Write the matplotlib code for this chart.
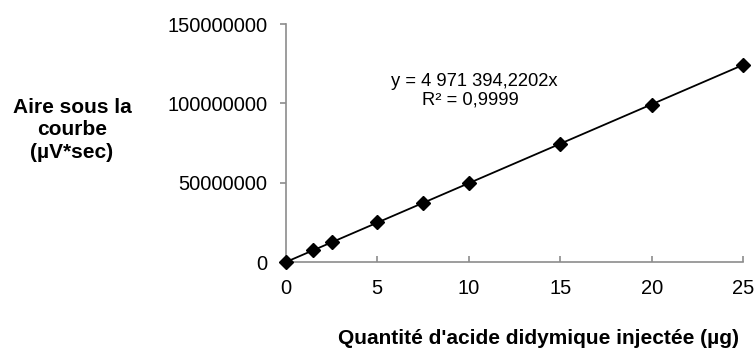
import numpy as np
import matplotlib.pyplot as plt

plt.rcParams['font.family'] = ['Liberation Sans', 'DejaVu Sans']

# data
qty = [0, 1.5, 2.5, 5, 7.5, 10, 15, 20, 25]
area = [0, 7500000, 12500000, 25400000, 37200000, 49600000, 74600000, 99300000, 124300000]
slope = 4971394.2202
yticks = [0, 50000000, 100000000, 150000000]
xticks = [0, 5, 10, 15, 20, 25]

fig = plt.figure(figsize=(7.56, 3.49), dpi=100)
ax = fig.add_axes([0.378, 0.249, 0.605, 0.682])

xs = np.array([0, 25])
ax.plot(xs, slope * xs, color='black', lw=1.3, zorder=2, clip_on=False)
ax.plot(qty, area, linestyle='none', marker='D', color='black', ms=7, zorder=3,
        clip_on=False)

ax.set_xlim(0, 25)
ax.set_ylim(0, 150000000)
ax.set_xticks(xticks)
ax.set_yticks(yticks)
ax.set_yticklabels([str(v) for v in yticks])
ax.set_xticklabels([str(v) for v in xticks])

for s in ['top', 'right']:
    ax.spines[s].set_visible(False)
for s in ['left', 'bottom']:
    ax.spines[s].set_color('#8c8c8c')
    ax.spines[s].set_linewidth(1.2)

ax.tick_params(axis='y', direction='out', length=4, color='#8c8c8c', width=1.2,
               labelsize=14.5, pad=9)
ax.tick_params(axis='x', direction='in', length=4, color='#8c8c8c', width=1.2,
               labelsize=14.5, pad=12)

# trendline equation
fig.text(474 / 756, 1 - 86 / 349, 'y = 4 971 394,2202x', ha='center', va='baseline',
         fontsize=13.2)
fig.text(470 / 756, 1 - 104 / 349, 'R² = 0,9999', ha='center', va='baseline',
         fontsize=13.2)

fig.text(72 / 756, 1 - 130 / 349, 'Aire sous la\ncourbe\n(µV*sec)', ha='center',
         va='center', fontsize=15, fontweight='bold', linespacing=1.25)
fig.text(538 / 756, 1 - 344 / 349, "Quantité d'acide didymique injectée (µg)",
         ha='center', va='baseline', fontsize=15, fontweight='bold')

fig.savefig('out.png', dpi=100)
